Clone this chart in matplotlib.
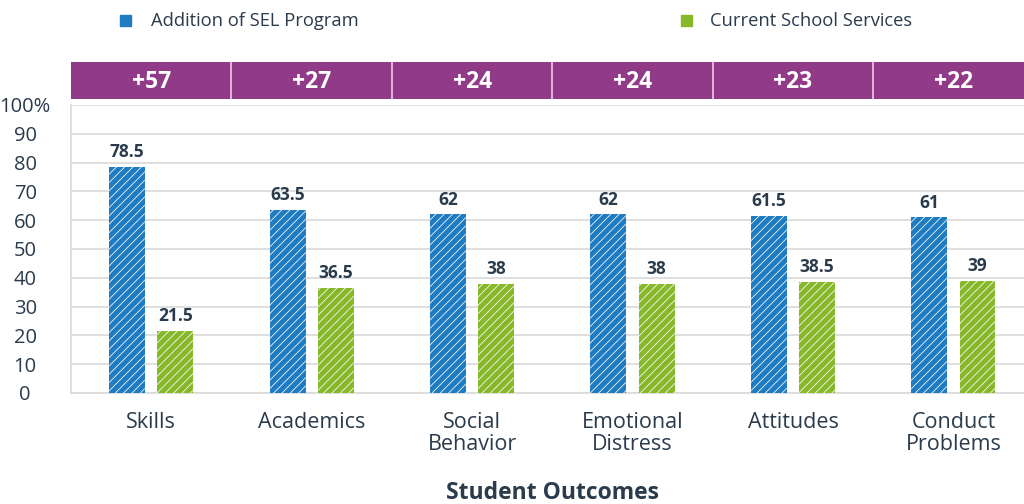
import matplotlib
matplotlib.use("Agg")
import matplotlib.pyplot as plt
import numpy as np

categories = ["Skills", "Academics", "Social\nBehavior", "Emotional\nDistress", "Attitudes", "Conduct\nProblems"]
sel_values = [78.5, 63.5, 62, 62, 61.5, 61]
current_values = [21.5, 36.5, 38, 38, 38.5, 39]
diff_labels = ["+57", "+27", "+24", "+24", "+23", "+22"]
series_names = ["Addition of SEL Program", "Current School Services"]
yticks = [0, 10, 20, 30, 40, 50, 60, 70, 80, 90, 100]
ytick_labels = ["0", "10", "20", "30", "40", "50", "60", "70", "80", "90", "100%"]

plt.rcParams['font.family'] = ['Open Sans', 'DejaVu Sans']
plt.rcParams['hatch.linewidth'] = 0.55

BLUE = "#1f7bc2"
GREEN = "#86b82a"
PURPLE = "#913a88"
TEXT = "#2a3b4c"

fig = plt.figure(figsize=(10.24, 5.04), dpi=100)
left = 71 / 1024
ax = fig.add_axes([left, 1 - 393 / 504, 1 - left, (393 - 105) / 504])
band = fig.add_axes([left, 1 - 99 / 504, 1 - left, 37 / 504])

x = np.arange(len(categories))
w = 0.224
off = 0.15
xlim = (-0.5, 5.44)

ax.bar(x - off, sel_values, w, color=BLUE, edgecolor="white", linewidth=0, hatch="////", zorder=3)
ax.bar(x + off, current_values, w, color=GREEN, edgecolor="white", linewidth=0, hatch="////", zorder=3)

for xi, v in zip(x - off, sel_values):
    ax.text(xi, v + 2.0, f"{v:g}", ha="center", va="bottom", fontsize=12.5, fontweight="bold", color=TEXT)
for xi, v in zip(x + off, current_values):
    ax.text(xi, v + 2.0, f"{v:g}", ha="center", va="bottom", fontsize=12.5, fontweight="bold", color=TEXT)

ax.set_xlim(*xlim)
ax.set_ylim(0, 100)
ax.set_yticks(yticks)
ax.set_yticklabels(ytick_labels, fontsize=14.5, color=TEXT, ha="center")
ax.set_xticks(x)
ax.set_xticklabels(categories, fontsize=15.5, color=TEXT, linespacing=1.05)
ax.tick_params(axis="both", length=0)
ax.tick_params(axis="x", pad=14)
ax.tick_params(axis="y", pad=33)
ax.grid(axis="y", color="#d9d9d9", linewidth=1.2, zorder=0)
for s in ["top", "right"]:
    ax.spines[s].set_visible(False)
ax.spines["left"].set_color("#d9d9d9")
ax.spines["left"].set_linewidth(1.2)
ax.spines["bottom"].set_color("#d9d9d9")
ax.spines["bottom"].set_linewidth(1.2)

fig.text(552 / 1024, 1 - 493 / 504, "Student Outcomes", fontsize=16.5, fontweight="bold",
         color=TEXT, ha="center", va="center")

band.set_xlim(*xlim)
band.set_ylim(0, 1)
band.set_facecolor(PURPLE)
for s in band.spines.values():
    s.set_visible(False)
band.set_xticks([])
band.set_yticks([])
for xi, lab in zip(x, diff_labels):
    band.text(xi, 0.45, lab, ha="center", va="center", fontsize=16.5, fontweight="bold", color="white")
for xb in x[:-1] + 0.5:
    band.axvline(xb, color="#e8cfe4", linewidth=1.2)

# legend
fig.patches.append(plt.Rectangle((120 / 1024, 1 - 26 / 504), 11 / 1024, 11 / 504, transform=fig.transFigure, color=BLUE))
fig.text(151 / 1024, 1 - 21 / 504, series_names[0], fontsize=13.2, color=TEXT, va="center", ha="left")
fig.patches.append(plt.Rectangle((681 / 1024, 1 - 26 / 504), 11 / 1024, 11 / 504, transform=fig.transFigure, color=GREEN))
fig.text(710 / 1024, 1 - 21 / 504, series_names[1], fontsize=13.2, color=TEXT, va="center", ha="left")

fig.savefig("out.png", dpi=100)
